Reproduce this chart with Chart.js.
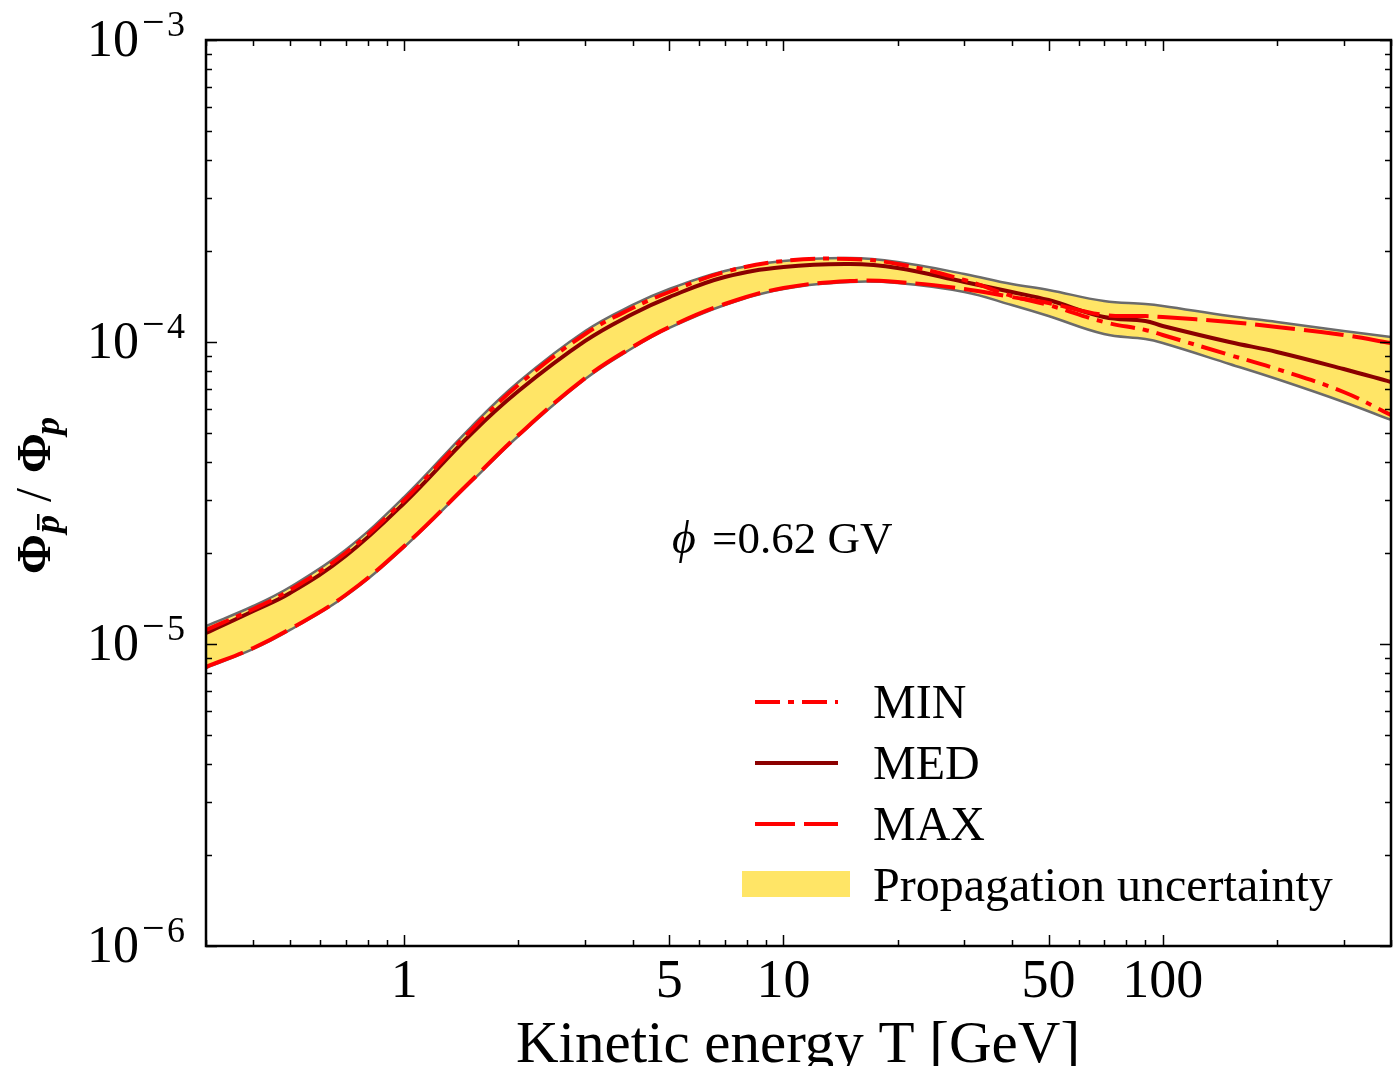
<!DOCTYPE html>
<html>
<head>
    <meta charset="utf-8">
    <title>Antiproton / proton ratio</title>
    <script src="https://cdn.jsdelivr.net/npm/chart.js@4.4.1/dist/chart.umd.min.js"></script>
    <style>
        html, body { margin: 0; padding: 0; background: #fff; }
        canvas { display: block; }
    </style>
</head>
<body>
<canvas id="ratio" width="1393" height="1066"></canvas>
<script>
    // kinetic energy T [GeV]
    const energies = [0.3, 0.4, 0.5, 0.7, 1, 1.5, 2, 3, 4, 5, 7, 10, 15, 20, 30, 40, 50, 70, 90, 100, 150, 200, 300, 400];

    // propagation uncertainty band (upper / lower edge)
    const bandUpper = [1.147e-5, 1.336e-5, 1.544e-5, 2.048e-5, 3.07e-5, 5.23e-5, 7.37e-5, 1.087e-4, 1.326e-4, 1.498e-4, 1.718e-4, 1.854e-4,
                       1.897e-4, 1.840e-4, 1.680e-4, 1.556e-4, 1.487e-4, 1.367e-4, 1.336e-4, 1.316e-4, 1.219e-4, 1.165e-4, 1.087e-4, 1.039e-4];
    const bandLower = [8.33e-6, 9.63e-6, 1.113e-5, 1.442e-5, 2.095e-5, 3.44e-5, 4.884e-5, 7.54e-5, 9.55e-5, 1.113e-4, 1.326e-4, 1.498e-4,
                       1.580e-4, 1.568e-4, 1.464e-4, 1.326e-4, 1.219e-4, 1.063e-4, 1.023e-4, 9.92e-5, 8.46e-5, 7.54e-5, 6.33e-5, 5.52e-5];

    // MIN / MED / MAX propagation models
    const minRatio = [1.113e-5, 1.306e-5, 1.510e-5, 2.001e-5, 2.998e-5, 5.11e-5, 7.21e-5, 1.063e-4, 1.296e-4, 1.464e-4, 1.705e-4, 1.854e-4,
                      1.883e-4, 1.813e-4, 1.604e-4, 1.420e-4, 1.326e-4, 1.165e-4, 1.096e-4, 1.055e-4, 9.06e-5, 8.14e-5, 6.83e-5, 5.73e-5];
    const medRatio = [1.087e-5, 1.286e-5, 1.475e-5, 1.956e-5, 2.931e-5, 4.96e-5, 6.88e-5, 1.008e-4, 1.238e-4, 1.409e-4, 1.641e-4, 1.771e-4,
                      1.813e-4, 1.758e-4, 1.580e-4, 1.464e-4, 1.377e-4, 1.210e-4, 1.174e-4, 1.130e-4, 1.000e-4, 9.27e-5, 8.14e-5, 7.37e-5];
    const maxRatio = [8.39e-6, 9.70e-6, 1.121e-5, 1.453e-5, 2.111e-5, 3.465e-5, 4.92e-5, 7.60e-5, 9.63e-5, 1.121e-4, 1.336e-4, 1.509e-4,
                      1.592e-4, 1.580e-4, 1.498e-4, 1.409e-4, 1.346e-4, 1.229e-4, 1.219e-4, 1.210e-4, 1.165e-4, 1.121e-4, 1.055e-4, 9.92e-5];

    const xTickLabels = [1, 5, 10, 50, 100];
    const yDecades = [-6, -5, -4, -3];

    const SERIF = '"Liberation Serif", "DejaVu Serif", serif';
    const YELLOW = '#ffe566';
    const RED = '#ff0000';
    const DARKRED = '#8b0000';
    const GREY = '#6b6b6b';

    const pts = vals => energies.map((e, i) => ({x: e, y: vals[i]}));

    // inward ticks, box, labels, legend and note
    const decorations = {
        id: 'decorations',
        afterDraw(chart) {
            const {ctx, chartArea: a, scales: {x, y}} = chart;
            ctx.save();
            ctx.strokeStyle = '#000';
            ctx.fillStyle = '#000';

            // x ticks (bottom + top)
            ctx.lineWidth = 1.5;
            for (let d = -1; d <= 2; d++) {
                for (let m = 1; m <= 9; m++) {
                    const v = m * Math.pow(10, d);
                    if (v < x.min || v > x.max) continue;
                    const px = Math.round(x.getPixelForValue(v)) + 0.5;
                    const len = xTickLabels.includes(v) ? 11 : 6;
                    ctx.beginPath();
                    ctx.moveTo(px, a.bottom); ctx.lineTo(px, a.bottom - len);
                    ctx.moveTo(px, a.top); ctx.lineTo(px, a.top + len);
                    ctx.stroke();
                }
            }
            // y ticks (left + right)
            for (const d of yDecades) {
                for (let m = 1; m <= 9; m++) {
                    const v = m * Math.pow(10, d);
                    if (v < y.min * 0.999 || v > y.max * 1.001) continue;
                    const py = Math.round(y.getPixelForValue(v)) + 0.5;
                    const len = m === 1 ? 11 : 6;
                    ctx.beginPath();
                    ctx.moveTo(a.left, py); ctx.lineTo(a.left + len, py);
                    ctx.moveTo(a.right, py); ctx.lineTo(a.right - len, py);
                    ctx.stroke();
                }
            }

            ctx.lineWidth = 2.5;
            ctx.strokeRect(a.left, a.top, a.right - a.left, a.bottom - a.top);

            // x tick labels
            ctx.textAlign = 'center';
            ctx.textBaseline = 'alphabetic';
            ctx.font = '54px ' + SERIF;
            for (const v of xTickLabels) {
                ctx.fillText(String(v), x.getPixelForValue(v), 997);
            }

            // y tick labels 10^d
            for (const d of yDecades) {
                const py = y.getPixelForValue(Math.pow(10, d));
                ctx.textAlign = 'right';
                ctx.font = '52px ' + SERIF;
                ctx.fillText('10', 139, py + 16);
                ctx.textAlign = 'left';
                ctx.font = '40px ' + SERIF;
                ctx.fillText('\u2212', 142, py - 5);
                ctx.font = '36px ' + SERIF;
                ctx.fillText(String(-d), 167, py - 4);
            }

            // x axis title
            ctx.textAlign = 'center';
            ctx.font = '59px ' + SERIF;
            ctx.fillText('Kinetic energy T [GeV]', 798, 1062);

            // y axis title: Phi_pbar / Phi_p
            ctx.save();
            ctx.translate(50, 574);
            ctx.rotate(-Math.PI / 2);
            ctx.textAlign = 'left';
            ctx.font = 'bold 48px ' + SERIF;
            ctx.fillText('\u03A6', 0, 0);
            ctx.fillText('\u03A6', 101, 0);
            ctx.font = '50px ' + SERIF;
            ctx.fillText('/', 72, 0);
            ctx.font = 'italic bold 36px ' + SERIF;
            ctx.fillText('p', 41, 9);
            ctx.fillText('p', 139, 9);
            const pw = ctx.measureText('p').width;
            ctx.fillRect(44, -13, pw - 2, 2.5);
            ctx.restore();

            // modulation note
            ctx.textAlign = 'left';
            ctx.font = 'italic 46px ' + SERIF;
            ctx.fillText('\u03D5', 672, 553);
            ctx.font = '45px ' + SERIF;
            ctx.fillText('=0.62 GV', 712, 553);

            // legend
            const ds = chart.data.datasets;
            const rows = [
                {set: ds[0], y: 702},
                {set: ds[2], y: 763},
                {set: ds[1], y: 824}
            ];
            ctx.font = '48px ' + SERIF;
            for (const r of rows) {
                ctx.save();
                ctx.strokeStyle = r.set.borderColor;
                ctx.lineWidth = r.set.borderWidth;
                ctx.setLineDash(r.set.borderDash || []);
                ctx.beginPath();
                ctx.moveTo(755, r.y);
                ctx.lineTo(838, r.y);
                ctx.stroke();
                ctx.restore();
                ctx.fillText(r.set.label, 873, r.y + 16);
            }
            ctx.fillStyle = YELLOW;
            ctx.fillRect(742, 871, 108, 26);
            ctx.fillStyle = '#000';
            ctx.fillText('Propagation uncertainty', 873, 901);

            ctx.restore();
        }
    };

    // datasets are painted from the last index to the first, so the band comes last
    new Chart(document.getElementById('ratio'), {
        type: 'line',
        data: {
            datasets: [
                {
                    label: 'MIN',
                    data: pts(minRatio),
                    borderColor: RED,
                    borderWidth: 4,
                    borderDash: [25, 8, 6, 8],
                    fill: false
                },
                {
                    label: 'MAX',
                    data: pts(maxRatio),
                    borderColor: RED,
                    borderWidth: 4,
                    borderDash: [40, 9],
                    fill: false
                },
                {
                    label: 'MED',
                    data: pts(medRatio),
                    borderColor: DARKRED,
                    borderWidth: 4,
                    fill: false
                },
                {
                    label: 'band lower',
                    data: pts(bandLower),
                    borderColor: GREY,
                    borderWidth: 2.5,
                    fill: false
                },
                {
                    label: 'Propagation uncertainty',
                    data: pts(bandUpper),
                    borderColor: GREY,
                    borderWidth: 2.5,
                    backgroundColor: YELLOW,
                    fill: '-1'
                }
            ]
        },
        options: {
            responsive: false,
            animation: false,
            devicePixelRatio: 1,
            layout: { padding: { top: 40, right: 2, left: 0, bottom: 0 } },
            elements: {
                point: { radius: 0 },
                line: { tension: 0.4 }
            },
            plugins: {
                legend: { display: false },
                tooltip: { enabled: false }
            },
            scales: {
                x: {
                    type: 'logarithmic',
                    min: 0.3,
                    max: 400,
                    ticks: { display: false },
                    grid: { display: false },
                    border: { display: false },
                    afterFit: s => { s.height = 120; }
                },
                y: {
                    type: 'logarithmic',
                    min: 1e-6,
                    max: 1e-3,
                    ticks: { display: false },
                    grid: { display: false },
                    border: { display: false },
                    afterFit: s => { s.width = 206; }
                }
            }
        },
        plugins: [decorations]
    });
</script>
</body>
</html>
